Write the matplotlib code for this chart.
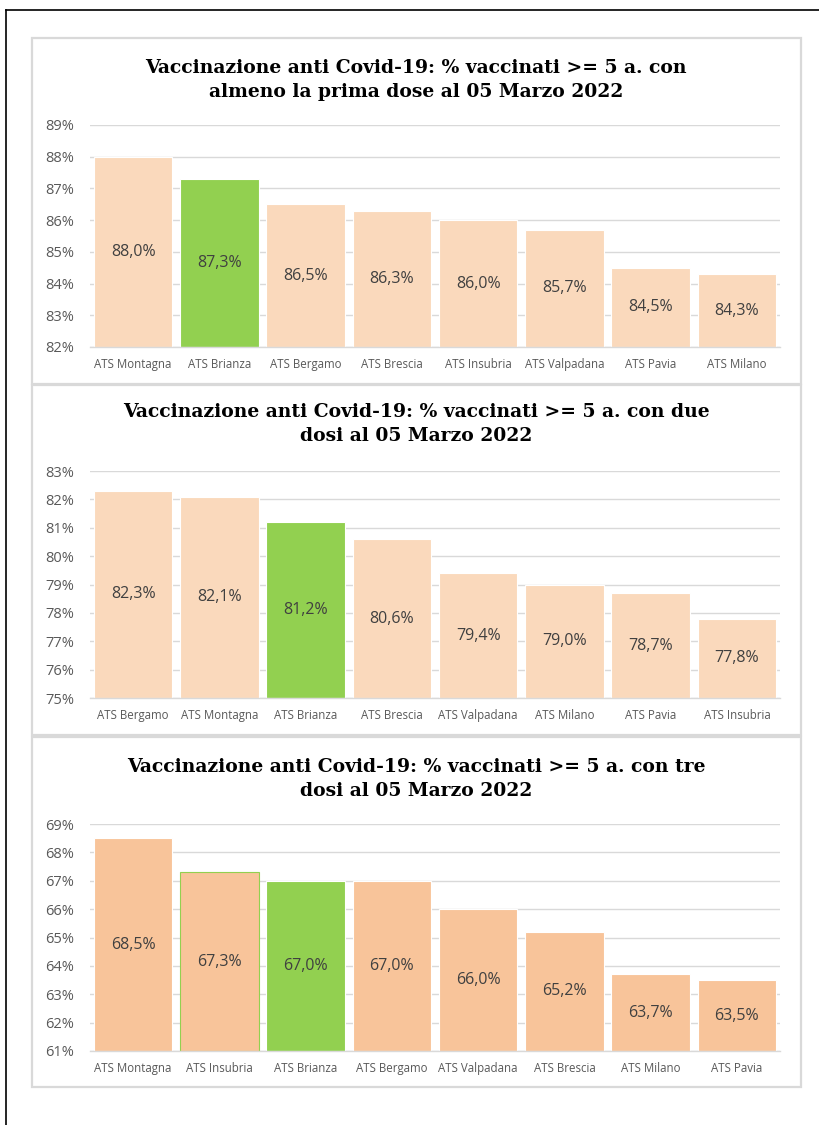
import numpy as np
import matplotlib
matplotlib.use("Agg")
import matplotlib.pyplot as plt
from matplotlib.patches import Rectangle
from matplotlib.lines import Line2D

# data
cats1 = ["ATS Montagna", "ATS Brianza", "ATS Bergamo", "ATS Brescia",
         "ATS Insubria", "ATS Valpadana", "ATS Pavia", "ATS Milano"]
vals1 = [88.0, 87.3, 86.5, 86.3, 86.0, 85.7, 84.5, 84.3]

cats2 = ["ATS Bergamo", "ATS Montagna", "ATS Brianza", "ATS Brescia",
         "ATS Valpadana", "ATS Milano", "ATS Pavia", "ATS Insubria"]
vals2 = [82.3, 82.1, 81.2, 80.6, 79.4, 79.0, 78.7, 77.8]

cats3 = ["ATS Montagna", "ATS Insubria", "ATS Brianza", "ATS Bergamo",
         "ATS Valpadana", "ATS Brescia", "ATS Milano", "ATS Pavia"]
vals3 = [68.5, 67.3, 67.0, 67.0, 66.0, 65.2, 63.7, 63.5]

titles = [
    "Vaccinazione anti Covid-19: % vaccinati >= 5 a. con\nalmeno la prima dose al 05 Marzo 2022",
    "Vaccinazione anti Covid-19: % vaccinati >= 5 a. con due\ndosi al 05 Marzo 2022",
    "Vaccinazione anti Covid-19: % vaccinati >= 5 a. con tre\ndosi al 05 Marzo 2022",
]
ylims = [(82, 89), (75, 83), (61, 69)]

W, H = 819, 1125
PEACH = "#FAD9BC"
PEACH_DARK = "#F8C49A"
GREEN = "#92D050"
GRID = "#D9D9D9"
TICK = "#595959"
LABEL = "#404040"

fig = plt.figure(figsize=(W / 100, H / 100), dpi=100)
fig.patch.set_facecolor("white")

def fx(px):
    return px / W

def fy(py):
    return 1 - py / H

# outer black frame (top and left only)
fig.add_artist(Line2D([fx(6), 1], [fy(10), fy(10)], color="black", lw=1.2))
fig.add_artist(Line2D([fx(6), fx(6)], [fy(10), 0], color="black", lw=1.2))

# panel boxes: (top, bottom) in px
boxes = [(38, 384), (385, 735), (737, 1087)]
for top, bot in boxes:
    fig.add_artist(Rectangle((fx(32), fy(bot)), fx(801) - fx(32), fy(top) - fy(bot),
                             transform=fig.transFigure, fill=False,
                             edgecolor=GRID, lw=1.6))

# plot areas: (top px, bottom px), title line centre
areas = [(125, 347), (471, 698), (824, 1051)]
title_y = [80, 424, 779]

datasets = [
    (cats1, vals1, [PEACH if c != "ATS Brianza" else GREEN for c in cats1]),
    (cats2, vals2, [PEACH if c != "ATS Brianza" else GREEN for c in cats2]),
    (cats3, vals3, [PEACH_DARK if c != "ATS Brianza" else GREEN for c in cats3]),
]

for i, (cats, vals, colors) in enumerate(datasets):
    top, bot = areas[i]
    ax = fig.add_axes([fx(90), fy(bot), fx(780) - fx(90), fy(top) - fy(bot)])
    lo, hi = ylims[i]
    x = np.arange(len(cats))
    edges = ["white"] * len(cats)
    if i == 2:
        edges[cats.index("ATS Insubria")] = GREEN
    heights = [v - lo for v in vals]
    ax.bar(x, heights, bottom=lo, width=0.91, color=colors,
           edgecolor=edges, linewidth=0.8, zorder=3)
    for xi, v in zip(x, vals):
        ax.text(xi, (lo + v) / 2, f"{v:.1f}%".replace(".", ","),
                ha="center", va="center", fontsize=11.5, color=LABEL,
                family=["Open Sans", "DejaVu Sans"], zorder=4)
    ax.set_xlim(-0.5, len(cats) - 0.5)
    ax.set_ylim(lo, hi)
    ax.set_yticks(np.arange(lo, hi + 1))
    ax.set_yticklabels([f"{t}%" for t in range(lo, hi + 1)],
                       fontsize=10.5, color=TICK, family=["Open Sans", "DejaVu Sans"])
    ax.set_xticks(x)
    ax.set_xticklabels(cats, fontsize=8.3, color=TICK,
                       family=["Open Sans", "DejaVu Sans"])
    ax.tick_params(axis="x", length=0, pad=8)
    ax.tick_params(axis="y", length=0, pad=11.5)
    ax.grid(axis="y", color=GRID, lw=1, zorder=0)
    ax.set_axisbelow(True)
    for s in ["top", "right", "left"]:
        ax.spines[s].set_visible(False)
    ax.spines["bottom"].set_color(GRID)
    ax.spines["bottom"].set_linewidth(1)
    ax.spines["bottom"].set_zorder(5)

    fig.text(fx(416), fy(title_y[i]), titles[i], ha="center", va="center",
             multialignment="center", fontsize=13.5, fontweight="bold",
             family=["DejaVu Serif"], linespacing=1.45)

fig.savefig("out.png", dpi=100, facecolor="white")
